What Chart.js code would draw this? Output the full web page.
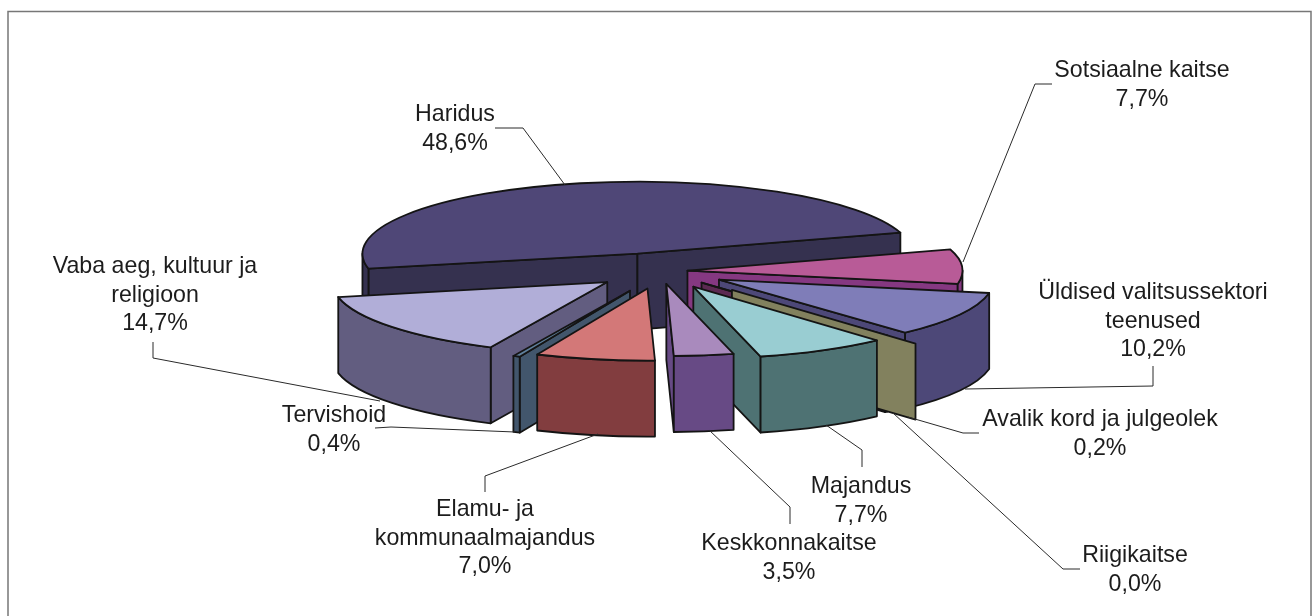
<!DOCTYPE html>
<html>
<head>
<meta charset="utf-8">
<style>
  html, body { margin: 0; padding: 0; background: #fff; }
  #wrap { width: 1315px; height: 616px; }
</style>
<script src="https://cdn.jsdelivr.net/npm/chart.js@4/dist/chart.umd.min.js"></script>
</head>
<body>
<div id="wrap"><canvas id="chart" width="1315" height="616"></canvas></div>
<script>
// ── DATA ───────────────────────────────────────
const categories = ['Haridus', 'Sotsiaalne kaitse', 'Üldised valitsussektori teenused', 'Avalik kord ja julgeolek',
  'Riigikaitse', 'Majandus', 'Keskkonnakaitse', 'Elamu- ja kommunaalmajandus', 'Tervishoid', 'Vaba aeg, kultuur ja religioon'];
const shares = [48.6, 7.7, 10.2, 0.2, 0.0, 7.7, 3.5, 7.0, 0.4, 14.7];

// ── STYLE ──────────────────────────────────────
const topColors  = ['#4f4777', '#b85b97', '#7f7db8', '#5c2a52', '#82815e', '#99cdd2', '#a98abd', '#d37878', '#5f809c', '#b1aed8'];
const sideColors = ['#35314f', '#853881', '#4d4878', '#5c2a52', '#82815e', '#4e7273', '#674a85', '#823d3f', '#42566c', '#625d80'];
const explode    = [80, 30, 68, 70, 107, 72, 50, 68, 74, 68];
const nudgeX     = [0, 0, 2, -3, 3, 2, 2, 3, 3, 3];
const nudgeY     = [3, 0, 0, -2, -2, -1, 0, 0, 2, 0];
const SQUASH = 0.262;
const DEPTH  = 76;
const EDGE   = '#141414';

// sildid: nimi ridadena, [keskpunkt x, esimese rea y]
const labelLines = [
  ['Haridus'], ['Sotsiaalne kaitse'], ['Üldised valitsussektori', 'teenused'], ['Avalik kord ja julgeolek'],
  ['Riigikaitse'], ['Majandus'], ['Keskkonnakaitse'], ['Elamu- ja', 'kommunaalmajandus'], ['Tervishoid'],
  ['Vaba aeg, kultuur ja', 'religioon']
];
const labelPos = [[455, 115], [1142, 71], [1153, 293], [1100, 420], [1135, 556], [861, 487], [789, 544], [485, 510], [334, 416], [155, 267]];
const leaders = [
  [[495, 128], [523, 128], [565, 185]],
  [[1052, 84], [1035, 84], [963, 262]],
  [[1153, 366], [1153, 386], [965, 389]],
  [[979, 433], [963, 433], [908, 417]],
  [[1080, 569], [1063, 569], [893, 413]],
  [[826, 425], [862, 450], [862, 467]],
  [[709, 430], [790, 507], [790, 524]],
  [[598, 434], [485, 476], [485, 492]],
  [[515, 432], [391, 427], [375, 428]],
  [[153, 342], [153, 358], [380, 401]]
];

// ── HELPERS ────────────────────────────────────
function fmtShare(v) {
  return v.toFixed(1).replace('.', ',') + '%';
}

function shape(ctx, fill, build) {
  ctx.beginPath();
  build();
  ctx.closePath();
  ctx.fillStyle = fill;
  ctx.fill();
  ctx.stroke();
}

// Lõigu kõrgusega osa + pealispind, ArcElementi nurkade ja raadiuse järgi
function drawSlice(ctx, arc, i) {
  const { startAngle: a0, endAngle: a1, outerRadius: rx } = arc;
  const ry = rx * SQUASH;
  const mid = (a0 + a1) / 2;
  const x = arc.x + Math.cos(mid) * explode[i] + nudgeX[i];
  const y = arc.y + Math.sin(mid) * explode[i] * SQUASH + nudgeY[i];

  const face = (a) => shape(ctx, sideColors[i], () => {
    const ox = x + Math.cos(a) * rx, oy = y + Math.sin(a) * ry;
    ctx.moveTo(x, y);
    ctx.lineTo(ox, oy);
    ctx.lineTo(ox, oy + DEPTH);
    ctx.lineTo(x, y + DEPTH);
  });

  if (Math.cos(a0) < 0) face(a0);
  if (Math.cos(a1) > 0) face(a1);

  // välissein ainult seal, kus kaar on vaataja poole
  for (let n = 0; n < 3; n++) {
    const t0 = Math.max(a0, n * 2 * Math.PI);
    const t1 = Math.min(a1, n * 2 * Math.PI + Math.PI);
    if (t1 <= t0) continue;
    shape(ctx, sideColors[i], () => {
      ctx.ellipse(x, y, rx, ry, 0, t0, t1);
      ctx.ellipse(x, y + DEPTH, rx, ry, 0, t1, t0, true);
    });
  }

  if (a1 > a0) {
    shape(ctx, topColors[i], () => {
      ctx.moveTo(x, y);
      ctx.ellipse(x, y, rx, ry, 0, a0, a1);
    });
  }
}

// ── PLUGINS ────────────────────────────────────
const pie3d = {
  id: 'pie3d',
  beforeDatasetsDraw(chart) {
    const ctx = chart.ctx;
    const arcs = chart.getDatasetMeta(0).data;
    ctx.save();
    ctx.lineWidth = 1.8;
    ctx.lineJoin = 'round';
    ctx.strokeStyle = EDGE;
    // tagant ettepoole, et eespoolsed lõigud kataksid tagumisi
    [0, 1, 2, 3, 4, 9, 8, 7, 5, 6].forEach(i => drawSlice(ctx, arcs[i], i));
    ctx.restore();
    return false;
  }
};

const frameAndLabels = {
  id: 'frameAndLabels',
  beforeDraw(chart) {
    const ctx = chart.ctx;
    ctx.save();
    ctx.strokeStyle = '#777';
    ctx.lineWidth = 1.5;
    ctx.beginPath();
    ctx.moveTo(8, 616);
    ctx.lineTo(8, 11.5);
    ctx.lineTo(1311, 11.5);
    ctx.lineTo(1311, 616);
    ctx.stroke();
    ctx.restore();
  },
  afterDraw(chart) {
    const ctx = chart.ctx;
    ctx.save();
    ctx.strokeStyle = '#2a2a2a';
    ctx.lineWidth = 1;
    leaders.forEach(pts => {
      ctx.beginPath();
      pts.forEach((p, k) => k ? ctx.lineTo(p[0], p[1]) : ctx.moveTo(p[0], p[1]));
      ctx.stroke();
    });
    ctx.fillStyle = '#1c1c1c';
    ctx.font = '23.2px "Liberation Sans", Arial, sans-serif';
    ctx.textAlign = 'center';
    ctx.textBaseline = 'middle';
    categories.forEach((c, i) => {
      const lines = [...labelLines[i], fmtShare(shares[i])];
      lines.forEach((txt, k) => ctx.fillText(txt, labelPos[i][0], labelPos[i][1] + k * 28.5));
    });
    ctx.restore();
  }
};

// ── CHART ──────────────────────────────────────
new Chart(document.getElementById('chart').getContext('2d'), {
  type: 'pie',
  data: {
    labels: categories,
    datasets: [{ data: shares, backgroundColor: topColors, borderColor: EDGE }]
  },
  options: {
    responsive: false,
    animation: false,
    rotation: 258,
    radius: 275,
    layout: { padding: { bottom: 74 } },
    plugins: { legend: { display: false }, tooltip: { enabled: false } }
  },
  plugins: [frameAndLabels, pie3d]
});
</script>
</body>
</html>
